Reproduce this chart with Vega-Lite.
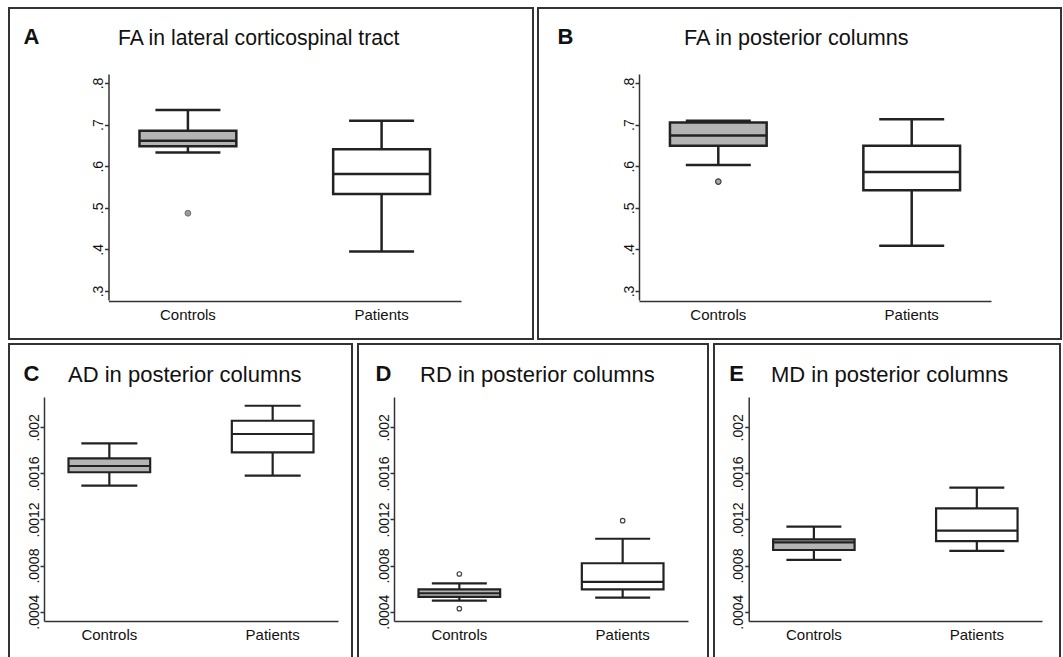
{
  "$schema": "https://vega.github.io/schema/vega-lite/v6.json",
  "background": "white",
  "padding": {"left": 8, "top": 7, "right": 0, "bottom": 0},
  "datasets": {
    "statsA": [
      {"group": "Controls", "lower": 0.633, "q1": 0.648, "median": 0.661, "q3": 0.685, "upper": 0.735},
      {"group": "Patients", "lower": 0.395, "q1": 0.533, "median": 0.581, "q3": 0.641, "upper": 0.709}
    ],
    "outA": [{"group": "Controls", "value": 0.487}],
    "statsB": [
      {"group": "Controls", "lower": 0.603, "q1": 0.649, "median": 0.674, "q3": 0.705, "upper": 0.709},
      {"group": "Patients", "lower": 0.409, "q1": 0.542, "median": 0.586, "q3": 0.649, "upper": 0.713}
    ],
    "outB": [{"group": "Controls", "value": 0.563}],
    "statsC": [
      {"group": "Controls", "lower": 0.001493, "q1": 0.00161, "median": 0.001664, "q3": 0.001731, "upper": 0.001861},
      {"group": "Patients", "lower": 0.00158, "q1": 0.001783, "median": 0.001942, "q3": 0.002057, "upper": 0.002187}
    ],
    "statsD": [
      {"group": "Controls", "lower": 0.000495, "q1": 0.000528, "median": 0.00056, "q3": 0.000594, "upper": 0.000646},
      {"group": "Patients", "lower": 0.000521, "q1": 0.000594, "median": 0.000658, "q3": 0.00082, "upper": 0.001033}
    ],
    "outD": [
      {"group": "Controls", "value": 0.000727},
      {"group": "Controls", "value": 0.000426},
      {"group": "Patients", "value": 0.00119}
    ],
    "statsE": [
      {"group": "Controls", "lower": 0.000849, "q1": 0.000935, "median": 0.001002, "q3": 0.001028, "upper": 0.001138},
      {"group": "Patients", "lower": 0.000927, "q1": 0.001013, "median": 0.001103, "q3": 0.001297, "upper": 0.001476}
    ]
  },
  "spacing": 3,
  "vconcat": [
    {
      "spacing": 3,
      "hconcat": [
        {
          "width": 524, "height": 331,
          "title": {"text": "FA in lateral corticospinal tract", "dx": 109, "offset": -41.6, "fontSize": 21.2},
          "data": {"name": "statsA"},
          "encoding": {
            "x": {"field": "group", "type": "nominal", "title": null,
                  "scale": {"domain": ["Controls", "Patients"], "range": [99.5, 452], "paddingInner": 0.5, "paddingOuter": 0.16},
                  "axis": {"offset": -38}}
          },
          "layer": [
            {"mark": {"type": "rule", "color": "#222", "strokeWidth": 2.5},
             "encoding": {"y": {"field": "lower", "type": "quantitative", "scale": {"domain": [0.2784, 0.8216], "range": [292, 66], "zero": false, "nice": false},
                                "axis": {"offset": -99.5, "values": [0.3, 0.4, 0.5, 0.6, 0.7, 0.8], "labelExpr": "replace(toString(datum.value), '0.', '.')", "title": "A", "titleX": -85.5, "titleY": 35}},
                          "y2": {"field": "upper"}}},
            {"mark": {"type": "tick", "color": "#222", "thickness": 2.5, "size": 65, "opacity": 1},
             "encoding": {"y": {"field": "lower", "type": "quantitative", "scale": {"domain": [0.2784, 0.8216], "range": [292, 66], "zero": false, "nice": false}}}},
            {"mark": {"type": "tick", "color": "#222", "thickness": 2.5, "size": 65, "opacity": 1},
             "encoding": {"y": {"field": "upper", "type": "quantitative", "scale": {"domain": [0.2784, 0.8216], "range": [292, 66], "zero": false, "nice": false}}}},
            {"mark": {"type": "bar", "stroke": "#222", "strokeWidth": 2.5},
             "encoding": {"y": {"field": "q1", "type": "quantitative", "scale": {"domain": [0.2784, 0.8216], "range": [292, 66], "zero": false, "nice": false}},
                          "y2": {"field": "q3"},
                          "fill": {"field": "group", "type": "nominal", "scale": {"domain": ["Controls", "Patients"], "range": ["#b4b4b4", "#ffffff"]}, "legend": null}}},
            {"mark": {"type": "tick", "color": "#222", "thickness": 2.5, "size": 97, "opacity": 1},
             "encoding": {"y": {"field": "median", "type": "quantitative", "scale": {"domain": [0.2784, 0.8216], "range": [292, 66], "zero": false, "nice": false}}}},
            {"data": {"name": "outA"},
             "mark": {"type": "point", "filled": true, "fill": "#9a9a9a", "stroke": "#707070", "strokeWidth": 1, "size": 34, "opacity": 1},
             "encoding": {"y": {"field": "value", "type": "quantitative", "scale": {"domain": [0.2784, 0.8216], "range": [292, 66], "zero": false, "nice": false}}}}
          ]
        },
        {
          "width": 523, "height": 331,
          "title": {"text": "FA in posterior columns", "dx": 146, "offset": -41.6, "fontSize": 21.6},
          "data": {"name": "statsB"},
          "encoding": {
            "x": {"field": "group", "type": "nominal", "title": null,
                  "scale": {"domain": ["Controls", "Patients"], "range": [101, 453], "paddingInner": 0.5, "paddingOuter": 0.16},
                  "axis": {"offset": -38}}
          },
          "layer": [
            {"mark": {"type": "rule", "color": "#222", "strokeWidth": 2.5},
             "encoding": {"y": {"field": "lower", "type": "quantitative", "scale": {"domain": [0.2784, 0.8216], "range": [292, 66], "zero": false, "nice": false},
                                "axis": {"offset": -101, "values": [0.3, 0.4, 0.5, 0.6, 0.7, 0.8], "labelExpr": "replace(toString(datum.value), '0.', '.')", "title": "B", "titleX": -82, "titleY": 35}},
                          "y2": {"field": "upper"}}},
            {"mark": {"type": "tick", "color": "#222", "thickness": 2.5, "size": 65, "opacity": 1},
             "encoding": {"y": {"field": "lower", "type": "quantitative", "scale": {"domain": [0.2784, 0.8216], "range": [292, 66], "zero": false, "nice": false}}}},
            {"mark": {"type": "tick", "color": "#222", "thickness": 2.5, "size": 65, "opacity": 1},
             "encoding": {"y": {"field": "upper", "type": "quantitative", "scale": {"domain": [0.2784, 0.8216], "range": [292, 66], "zero": false, "nice": false}}}},
            {"mark": {"type": "bar", "stroke": "#222", "strokeWidth": 2.5},
             "encoding": {"y": {"field": "q1", "type": "quantitative", "scale": {"domain": [0.2784, 0.8216], "range": [292, 66], "zero": false, "nice": false}},
                          "y2": {"field": "q3"},
                          "fill": {"field": "group", "type": "nominal", "scale": {"domain": ["Controls", "Patients"], "range": ["#b4b4b4", "#ffffff"]}, "legend": null}}},
            {"mark": {"type": "tick", "color": "#222", "thickness": 2.5, "size": 97, "opacity": 1},
             "encoding": {"y": {"field": "median", "type": "quantitative", "scale": {"domain": [0.2784, 0.8216], "range": [292, 66], "zero": false, "nice": false}}}},
            {"data": {"name": "outB"},
             "mark": {"type": "point", "filled": true, "fill": "#a8a8a8", "stroke": "#404040", "strokeWidth": 1.2, "size": 30, "opacity": 1},
             "encoding": {"y": {"field": "value", "type": "quantitative", "scale": {"domain": [0.2784, 0.8216], "range": [292, 66], "zero": false, "nice": false}}}}
          ]
        }
      ]
    },
    {
      "spacing": 4,
      "hconcat": [
        {
          "width": 343, "height": 318,
          "title": {"text": "AD in posterior columns", "dx": 59, "offset": -42.6},
          "data": {"name": "statsC"},
          "encoding": {
            "x": {"field": "group", "type": "nominal", "title": null,
                  "scale": {"domain": ["Controls", "Patients"], "range": [35, 329], "paddingInner": 0.5, "paddingOuter": 0.15},
                  "axis": {"offset": -41}}
          },
          "layer": [
            {"mark": {"type": "rule", "color": "#222", "strokeWidth": 2.2},
             "encoding": {"y": {"field": "lower", "type": "quantitative", "scale": {"domain": [0.000319, 0.002263], "range": [277, 53], "zero": false, "nice": false},
                                "axis": {"offset": -35, "values": [0.0004, 0.0008, 0.0012, 0.0016, 0.002], "labelExpr": "replace(toString(datum.value), '0.', '.')", "title": "C", "titleX": -21, "titleY": 36}},
                          "y2": {"field": "upper"}}},
            {"mark": {"type": "tick", "color": "#222", "thickness": 2.2, "size": 56, "opacity": 1},
             "encoding": {"y": {"field": "lower", "type": "quantitative", "scale": {"domain": [0.000319, 0.002263], "range": [277, 53], "zero": false, "nice": false}}}},
            {"mark": {"type": "tick", "color": "#222", "thickness": 2.2, "size": 56, "opacity": 1},
             "encoding": {"y": {"field": "upper", "type": "quantitative", "scale": {"domain": [0.000319, 0.002263], "range": [277, 53], "zero": false, "nice": false}}}},
            {"mark": {"type": "bar", "stroke": "#222", "strokeWidth": 2.2},
             "encoding": {"y": {"field": "q1", "type": "quantitative", "scale": {"domain": [0.000319, 0.002263], "range": [277, 53], "zero": false, "nice": false}},
                          "y2": {"field": "q3"},
                          "fill": {"field": "group", "type": "nominal", "scale": {"domain": ["Controls", "Patients"], "range": ["#b4b4b4", "#ffffff"]}, "legend": null}}},
            {"mark": {"type": "tick", "color": "#222", "thickness": 2.2, "size": 82, "opacity": 1},
             "encoding": {"y": {"field": "median", "type": "quantitative", "scale": {"domain": [0.000319, 0.002263], "range": [277, 53], "zero": false, "nice": false}}}}
          ]
        },
        {
          "width": 350, "height": 318,
          "title": {"text": "RD in posterior columns", "dx": 62, "offset": -42.6},
          "data": {"name": "statsD"},
          "encoding": {
            "x": {"field": "group", "type": "nominal", "title": null,
                  "scale": {"domain": ["Controls", "Patients"], "range": [36, 330], "paddingInner": 0.5, "paddingOuter": 0.15},
                  "axis": {"offset": -41}}
          },
          "layer": [
            {"mark": {"type": "rule", "color": "#222", "strokeWidth": 2.2},
             "encoding": {"y": {"field": "lower", "type": "quantitative", "scale": {"domain": [0.000319, 0.002263], "range": [277, 53], "zero": false, "nice": false},
                                "axis": {"offset": -36, "values": [0.0004, 0.0008, 0.0012, 0.0016, 0.002], "labelExpr": "replace(toString(datum.value), '0.', '.')", "title": "D", "titleX": -19, "titleY": 36}},
                          "y2": {"field": "upper"}}},
            {"mark": {"type": "tick", "color": "#222", "thickness": 2.2, "size": 55, "opacity": 1},
             "encoding": {"y": {"field": "lower", "type": "quantitative", "scale": {"domain": [0.000319, 0.002263], "range": [277, 53], "zero": false, "nice": false}}}},
            {"mark": {"type": "tick", "color": "#222", "thickness": 2.2, "size": 55, "opacity": 1},
             "encoding": {"y": {"field": "upper", "type": "quantitative", "scale": {"domain": [0.000319, 0.002263], "range": [277, 53], "zero": false, "nice": false}}}},
            {"mark": {"type": "bar", "stroke": "#222", "strokeWidth": 2.2},
             "encoding": {"y": {"field": "q1", "type": "quantitative", "scale": {"domain": [0.000319, 0.002263], "range": [277, 53], "zero": false, "nice": false}},
                          "y2": {"field": "q3"},
                          "fill": {"field": "group", "type": "nominal", "scale": {"domain": ["Controls", "Patients"], "range": ["#b4b4b4", "#ffffff"]}, "legend": null}}},
            {"mark": {"type": "tick", "color": "#222", "thickness": 2.2, "size": 82, "opacity": 1},
             "encoding": {"y": {"field": "median", "type": "quantitative", "scale": {"domain": [0.000319, 0.002263], "range": [277, 53], "zero": false, "nice": false}}}},
            {"data": {"name": "outD"},
             "mark": {"type": "point", "filled": true, "fill": "#ffffff", "stroke": "#444444", "strokeWidth": 1.2, "size": 20, "opacity": 1},
             "encoding": {"y": {"field": "value", "type": "quantitative", "scale": {"domain": [0.000319, 0.002263], "range": [277, 53], "zero": false, "nice": false}}}}
          ]
        },
        {
          "width": 346, "height": 318,
          "title": {"text": "MD in posterior columns", "dx": 57, "offset": -42.6},
          "data": {"name": "statsE"},
          "encoding": {
            "x": {"field": "group", "type": "nominal", "title": null,
                  "scale": {"domain": ["Controls", "Patients"], "range": [34.7, 328], "paddingInner": 0.5, "paddingOuter": 0.15},
                  "axis": {"offset": -41}}
          },
          "layer": [
            {"mark": {"type": "rule", "color": "#222", "strokeWidth": 2.2},
             "encoding": {"y": {"field": "lower", "type": "quantitative", "scale": {"domain": [0.000319, 0.002263], "range": [277, 53], "zero": false, "nice": false},
                                "axis": {"offset": -34.7, "values": [0.0004, 0.0008, 0.0012, 0.0016, 0.002], "labelExpr": "replace(toString(datum.value), '0.', '.')", "title": "E", "titleX": -20, "titleY": 36}},
                          "y2": {"field": "upper"}}},
            {"mark": {"type": "tick", "color": "#222", "thickness": 2.2, "size": 55, "opacity": 1},
             "encoding": {"y": {"field": "lower", "type": "quantitative", "scale": {"domain": [0.000319, 0.002263], "range": [277, 53], "zero": false, "nice": false}}}},
            {"mark": {"type": "tick", "color": "#222", "thickness": 2.2, "size": 55, "opacity": 1},
             "encoding": {"y": {"field": "upper", "type": "quantitative", "scale": {"domain": [0.000319, 0.002263], "range": [277, 53], "zero": false, "nice": false}}}},
            {"mark": {"type": "bar", "stroke": "#222", "strokeWidth": 2.2},
             "encoding": {"y": {"field": "q1", "type": "quantitative", "scale": {"domain": [0.000319, 0.002263], "range": [277, 53], "zero": false, "nice": false}},
                          "y2": {"field": "q3"},
                          "fill": {"field": "group", "type": "nominal", "scale": {"domain": ["Controls", "Patients"], "range": ["#b4b4b4", "#ffffff"]}, "legend": null}}},
            {"mark": {"type": "tick", "color": "#222", "thickness": 2.2, "size": 82, "opacity": 1},
             "encoding": {"y": {"field": "median", "type": "quantitative", "scale": {"domain": [0.000319, 0.002263], "range": [277, 53], "zero": false, "nice": false}}}}
          ]
        }
      ]
    }
  ],
  "config": {
    "font": "Liberation Sans",
    "view": {"stroke": "#333333", "strokeWidth": 2},
    "title": {"fontSize": 22, "fontWeight": "normal", "anchor": "start", "frame": "group", "color": "#111111", "font": "Liberation Sans"},
    "axis": {"grid": false, "domainColor": "#333333", "domainWidth": 1.5, "tickColor": "#333333", "tickWidth": 1.5, "labelColor": "#111111", "labelFont": "Liberation Sans", "titleFont": "Liberation Sans", "labelOverlap": false},
    "axisX": {"labelAngle": 0, "ticks": false, "tickSize": 0, "labelPadding": 6, "labelFontSize": 15},
    "axisY": {"labelAngle": -90, "labelAlign": "center", "labelBaseline": "alphabetic", "labelFontSize": 14, "tickSize": 4, "labelPadding": 2,
              "titleAngle": 0, "titleAlign": "left", "titleBaseline": "alphabetic", "titleFontSize": 22, "titleFontWeight": "bold", "titleColor": "#111111"}
  }
}
